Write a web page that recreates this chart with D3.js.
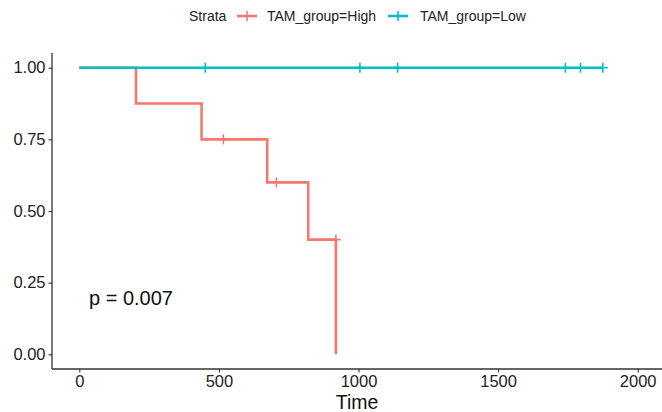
<!DOCTYPE html>
<html>
<head>
<meta charset="utf-8">
<script src="https://cdn.jsdelivr.net/npm/d3@7"></script>
<style>
  html, body { margin: 0; padding: 0; background: #fff; }
  svg { display: block; font-family: "Liberation Sans", Arial, sans-serif; }
</style>
</head>
<body>
<svg id="chart" width="662" height="412"></svg>
<script>
// ---- data ----
const strata = ["TAM_group=High", "TAM_group=Low"];
const colors = ["#F8766D", "#00BFC4"];
// step curves: time, survival
const highTimes = [0, 203, 438, 673, 820, 919];
const highSurv  = [1.0, 0.875, 0.75, 0.6, 0.4, 0.0];
const highCensorTimes = [516, 706, 919];
const highCensorSurv  = [0.75, 0.6, 0.4];
const lowTimes = [0, 1875];
const lowSurv  = [1.0, 1.0];
const lowCensorTimes = [451, 1005, 1140, 1741, 1795, 1875];
const lowCensorSurv  = [1, 1, 1, 1, 1, 1];
const xTicks = [0, 500, 1000, 1500, 2000];
const yTicks = [0, 0.25, 0.5, 0.75, 1.0];
const pText = "p = 0.007";

// ---- layout ----
const svg = d3.select("#chart");
const panel = {left: 52, right: 662, top: 53, bottom: 369};
const x = d3.scaleLinear().domain([0, 2000]).range([79.3, 637.7]);
const y = d3.scaleLinear().domain([0, 1]).range([354.3, 67.7]);

// axes
const xAxis = d3.axisBottom(x).tickValues(xTicks).tickFormat(d3.format("d")).tickSize(3.5).tickPadding(3);
const yAxis = d3.axisLeft(y).tickValues(yTicks).tickFormat(d3.format(".2f")).tickSize(3.5).tickPadding(3);

const gx = svg.append("g").attr("transform", `translate(0,${panel.bottom})`).call(xAxis);
gx.select(".domain").remove();
const gy = svg.append("g").attr("transform", `translate(${panel.left},0)`).call(yAxis);
gy.select(".domain").remove();
[gx, gy].forEach(g => {
  g.selectAll(".tick line").attr("stroke", "#333").attr("stroke-width", 1.1);
  g.selectAll(".tick text").attr("fill", "#222").style("font-size", "16.5px").style("font-family", "'Liberation Sans', Arial, sans-serif");
});
gx.selectAll(".tick text").attr("dy", "0.71em");

svg.append("line").attr("x1", panel.left).attr("x2", panel.right).attr("y1", panel.bottom).attr("y2", panel.bottom)
  .attr("stroke", "#333").attr("stroke-width", 1.3);
svg.append("line").attr("x1", panel.left).attr("x2", panel.left).attr("y1", panel.top).attr("y2", panel.bottom)
  .attr("stroke", "#333").attr("stroke-width", 1.3);

// curves
const line = d3.line().x(d => x(d[0])).y(d => y(d[1])).curve(d3.curveStepAfter);
const series = [
  {times: highTimes, surv: highSurv, ct: highCensorTimes, cs: highCensorSurv, color: colors[0]},
  {times: lowTimes, surv: lowSurv, ct: lowCensorTimes, cs: lowCensorSurv, color: colors[1]}
];
series.forEach(s => {
  const pts = s.times.map((t, i) => [t, s.surv[i]]);
  svg.append("path").datum(pts).attr("d", line).attr("fill", "none")
    .attr("stroke", s.color).attr("stroke-width", 2.6);
  const cg = svg.append("g");
  s.ct.forEach((t, i) => {
    const cx = x(t), cy = y(s.cs[i]);
    cg.append("line").attr("x1", cx).attr("x2", cx).attr("y1", cy - 5).attr("y2", cy + 5)
      .attr("stroke", s.color).attr("stroke-width", 1.6);
    cg.append("line").attr("x1", cx - 5).attr("x2", cx + 5).attr("y1", cy).attr("y2", cy)
      .attr("stroke", s.color).attr("stroke-width", 1.6);
  });
});

// p-value
svg.append("text").attr("x", 89).attr("y", 305).text(pText)
  .style("font-size", "20px").attr("fill", "#111");

// x title
svg.append("text").attr("x", (panel.left + panel.right) / 2).attr("y", 409)
  .attr("text-anchor", "middle").text("Time").style("font-size", "19.5px").attr("fill", "#111");

// legend
const leg = svg.append("g");
leg.append("text").attr("x", 189).attr("y", 21).text("Strata").style("font-size", "14px").attr("fill", "#222");
const keyX = [237, 388];
const textX = [267, 420];
strata.forEach((s, i) => {
  leg.append("line").attr("x1", keyX[i]).attr("x2", keyX[i] + 20).attr("y1", 16).attr("y2", 16)
    .attr("stroke", colors[i]).attr("stroke-width", 2.6);
  leg.append("line").attr("x1", keyX[i] + 10).attr("x2", keyX[i] + 10).attr("y1", 11).attr("y2", 21)
    .attr("stroke", colors[i]).attr("stroke-width", 1.6);
  leg.append("text").attr("x", textX[i]).attr("y", 21).text(s).style("font-size", "14px").attr("fill", "#222");
});
</script>
</body>
</html>
